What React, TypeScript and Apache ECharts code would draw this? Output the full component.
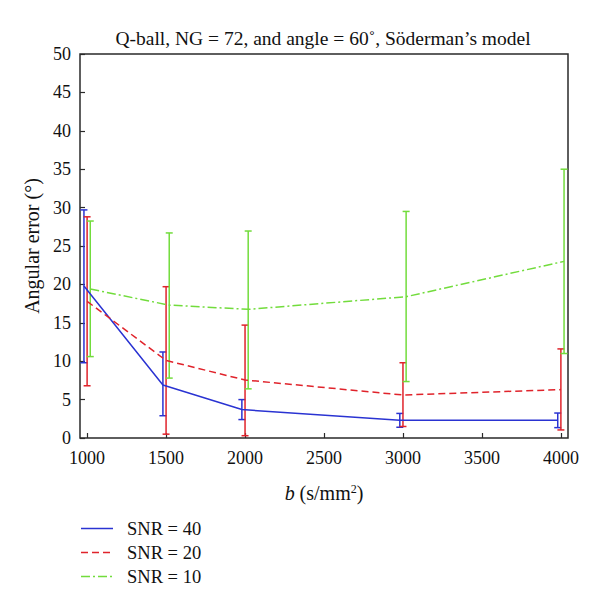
import React, { useEffect, useRef } from "react";
import * as echarts from "echarts";

const bValues = [1000, 1500, 2000, 3000, 4000];
const xTicks = [1000, 1500, 2000, 2500, 3000, 3500, 4000];
const yTicks = [0, 5, 10, 15, 20, 25, 30, 35, 40, 45, 50];

const snr40Mean = [19.8, 6.9, 3.7, 2.3, 2.3];
const snr40Low = [9.8, 2.9, 2.4, 1.4, 1.35];
const snr40High = [29.7, 11.2, 5.0, 3.2, 3.25];

const snr20Mean = [17.8, 10.1, 7.55, 5.6, 6.3];
const snr20Low = [6.8, 0.5, 0.3, 1.5, 1.05];
const snr20High = [28.8, 19.7, 14.7, 9.8, 11.6];

const snr10Mean = [19.4, 17.3, 16.75, 18.4, 23.0];
const snr10Low = [10.6, 7.8, 6.4, 7.35, 11.0];
const snr10High = [28.25, 26.7, 26.95, 29.5, 35.0];

const seriesDefs = [
  { name: "SNR = 40", mean: snr40Mean, low: snr40Low, high: snr40High, color: "#2a33d2", lineType: "solid" as any, dash: null as any, offset: -20 },
  { name: "SNR = 20", mean: snr20Mean, low: snr20Low, high: snr20High, color: "#e0232b", lineType: [7, 4] as any, dash: [7, 4], offset: 0 },
  { name: "SNR = 10", mean: snr10Mean, low: snr10Low, high: snr10High, color: "#72dc3c", lineType: [9, 3, 2, 3] as any, dash: [9, 3, 2, 3], offset: 20 },
];

const FONT = "'Liberation Serif', 'DejaVu Serif', serif";

export default function App() {
  const ref = useRef<HTMLDivElement>(null);
  useEffect(() => {
    if (!ref.current) return;
    const chart = echarts.init(ref.current, undefined, { renderer: "svg" });
    const series: any[] = [];
    seriesDefs.forEach((s) => {
      series.push({
        name: s.name,
        type: "line",
        data: bValues.map((b, i) => [b + s.offset, s.mean[i]]),
        symbol: "none",
        lineStyle: { color: s.color, width: 1.5, type: s.lineType },
        itemStyle: { color: s.color },
        z: 3,
      });
      series.push({
        name: s.name + " err",
        type: "custom",
        data: bValues.map((b, i) => [b + s.offset, s.low[i], s.high[i]]),
        renderItem: (params: any, api: any) => {
          const x = api.value(0);
          const lo = api.coord([x, api.value(1)]);
          const hi = api.coord([x, api.value(2)]);
          const cap = 3.5;
          const style = { stroke: s.color, lineWidth: 1.5 };
          return {
            type: "group",
            children: [
              { type: "line", shape: { x1: lo[0], y1: lo[1], x2: hi[0], y2: hi[1] }, style },
              { type: "line", shape: { x1: lo[0] - cap, y1: lo[1], x2: lo[0] + cap, y2: lo[1] }, style },
              { type: "line", shape: { x1: hi[0] - cap, y1: hi[1], x2: hi[0] + cap, y2: hi[1] }, style },
            ],
          };
        },
        encode: { x: 0, y: [1, 2] },
        z: 2,
      });
    });

    const legendGraphics: any[] = [];
    seriesDefs.forEach((s, i) => {
      const y = 520.5 + i * 24;
      legendGraphics.push({
        type: "line",
        shape: { x1: 73, y1: y, x2: 105, y2: y },
        style: { stroke: s.color, lineWidth: 1.5, lineDash: s.dash || undefined },
      });
      legendGraphics.push({
        type: "text",
        x: 119,
        y: y,
        style: { text: s.name, font: `18.5px ${FONT}`, fill: "#111", textAlign: "left", textVerticalAlign: "middle" },
      });
    });

    chart.setOption({
      animation: false,
      textStyle: { fontFamily: FONT },
      grid: { left: 72, right: 24, top: 46, bottom: 159, show: true, borderColor: "#2a2a2a", borderWidth: 1.5, backgroundColor: "transparent" },
      graphic: [
        {
          type: "text",
          x: 315,
          y: 30,
          style: {
            text: "Q-ball, NG = 72, and angle = 60\u02da, S\u00f6derman\u2019s model",
            font: `19.5px ${FONT}`,
            fill: "#111",
            textAlign: "center",
            textVerticalAlign: "middle",
          },
        },
        ...legendGraphics,
      ],
      xAxis: {
        type: "value",
        min: 955,
        max: 4045,
        name: "{i|b} (s/mm{s|2})",
        nameLocation: "middle",
        nameGap: 45,
        nameTextStyle: {
          fontFamily: FONT,
          fontSize: 20,
          color: "#111",
          rich: {
            i: { fontStyle: "italic", fontFamily: FONT, fontSize: 20, color: "#111" },
            s: { fontSize: 12, verticalAlign: "top", fontFamily: FONT, color: "#111", padding: [0, 0, 8, 0] },
          },
        },
        axisLine: { show: false },
        axisTick: { show: true, inside: true, length: 5, lineStyle: { color: "#2a2a2a", width: 1.2 }, customValues: xTicks },
        axisLabel: { color: "#111", fontSize: 18, fontFamily: FONT, margin: 11, customValues: xTicks, formatter: (v: number) => String(v) },
        splitLine: { show: false },
      },
      yAxis: {
        type: "value",
        min: 0,
        max: 50,
        interval: 5,
        name: "Angular error (\u00b0)",
        nameLocation: "middle",
        nameGap: 31,
        nameTextStyle: { fontFamily: FONT, fontSize: 20, color: "#111" },
        axisLine: { show: false },
        axisTick: { show: true, inside: true, length: 5, lineStyle: { color: "#2a2a2a", width: 1.2 }, customValues: yTicks },
        axisLabel: { color: "#111", fontSize: 18, fontFamily: FONT, margin: 9, customValues: yTicks, formatter: (v: number) => String(v) },
        splitLine: { show: false },
      },
      series,
    });
    return () => chart.dispose();
  }, []);
  return <div ref={ref} style={{ width: 584, height: 589 }} />;
}
